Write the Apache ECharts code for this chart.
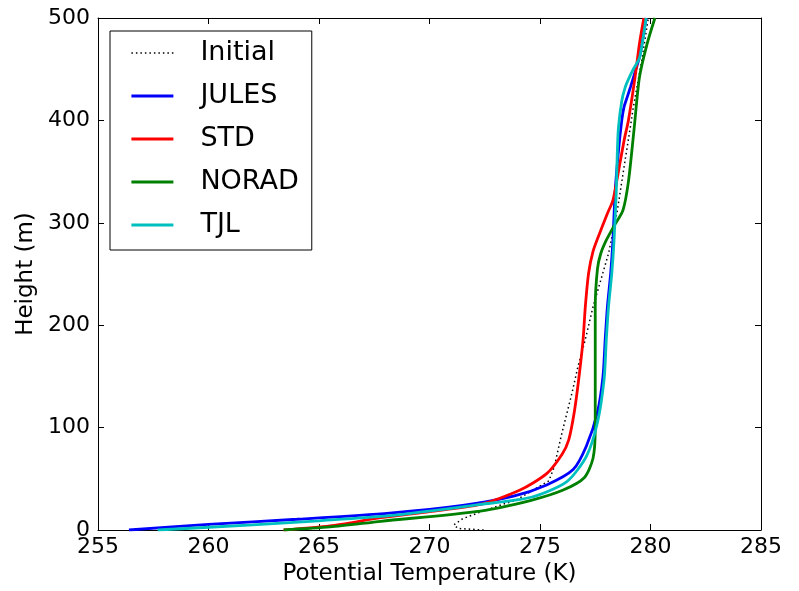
<!DOCTYPE html>
<html>
<head>
<meta charset="utf-8">
<script src="https://cdn.jsdelivr.net/npm/echarts@6/dist/echarts.min.js"></script>
<style>html,body{margin:0;padding:0;background:#fff;}#chart{width:799px;height:591px;}</style>
</head>
<body>
<div id="chart"></div>
<script>
// [temperature (K), height (m)]
var seriesNames = ['Initial', 'JULES', 'STD', 'NORAD', 'TJL'];
var xTicks = [255, 260, 265, 270, 275, 280, 285];
var yTicks = [0, 100, 200, 300, 400, 500];

var initialData = [[272.45,0],[271.3,1.5],[271.1,5],[271.5,11],[272.3,17.5],[273.3,25],[273.9,29],[275.4,48],[275.65,62],[275.95,91],[276.45,134],[276.7,158],[277.05,186],[277.4,218],[278.1,270],[278.5,312],[278.85,361],[279.1,395],[279.2,410],[279.6,458],[279.9,500]];
var julesData = [[256.4,0],[260.0,5.5],[264.0,10.5],[268.2,16.5],[271.5,24],[273.8,33],[275.3,44],[276.5,59],[277.1,82],[277.6,115],[277.85,150],[277.95,186],[278.05,218],[278.2,251],[278.3,283],[278.4,330],[278.55,370],[278.7,400],[278.8,413],[278.95,423],[279.1,433],[279.3,447],[279.5,462],[279.65,480],[279.8,500]];
var stdData = [[263.4,0],[265.5,4],[267.8,12],[270.0,18],[272.3,25],[274.1,39],[275.3,55],[276.0,74],[276.3,88],[276.55,115],[276.75,147],[276.95,186],[277.05,218],[277.2,251],[277.4,272],[277.65,287],[278.05,309],[278.3,322],[278.5,344],[278.8,380],[279.0,400],[279.3,442],[279.5,475],[279.7,500]];
var noradData = [[263.4,0],[265.5,3],[267.8,8.5],[272.3,18.5],[274.6,29],[276.05,39],[277.0,51],[277.4,70],[277.5,100],[277.5,150],[277.5,218],[277.6,255],[277.75,270],[278.0,283],[278.35,297],[278.75,312],[279.0,340],[279.25,390],[279.5,442],[279.85,475],[280.2,500]];
var tjlData = [[257.7,0],[262.0,5],[265.0,9],[268.2,14],[272.3,25],[274.6,32],[276.2,47],[277.1,72],[277.6,105],[277.9,147],[278.0,186],[278.1,218],[278.25,251],[278.35,283],[278.45,330],[278.5,370],[278.55,393],[278.7,419],[278.85,432],[279.0,440],[279.2,449],[279.5,461],[279.7,485],[279.8,500]];

var FONT = 'DejaVu Sans';
var chart = echarts.init(document.getElementById('chart'), null, {renderer: 'canvas'});

function axisCommon(extra) {
  var base = {
    type: 'value',
    axisLine: {show: true, onZero: false, lineStyle: {color: '#000', width: 1}},
    axisTick: {show: true, inside: true, length: 6, lineStyle: {color: '#000', width: 1}},
    splitLine: {show: false}
  };
  for (var k in extra) base[k] = extra[k];
  return base;
}

function lineSeries(name, data, color, width, type, smooth) {
  return {
    name: name, type: 'line', data: data, showSymbol: false, symbol: 'none',
    smooth: smooth, animation: false,
    xAxisIndex: 0, yAxisIndex: 0,
    lineStyle: {color: color, width: width, type: type},
    itemStyle: {color: color}
  };
}

var option = {
  backgroundColor: '#fff',
  animation: false,
  grid: {left: 98, right: 38, top: 18, bottom: 59, containLabel: false},
  xAxis: [
    axisCommon({position: 'bottom', min: xTicks[0], max: xTicks[xTicks.length-1], interval: 5,
      axisLabel: {color: '#000', fontSize: 22, fontFamily: FONT, margin: 6},
      name: 'Potential Temperature (K)', nameLocation: 'middle', nameGap: 33,
      nameTextStyle: {color: '#000', fontSize: 23, fontFamily: FONT}}),
    axisCommon({position: 'top', min: xTicks[0], max: xTicks[xTicks.length-1], interval: 5,
      axisLabel: {show: false}})
  ],
  yAxis: [
    axisCommon({position: 'left', min: yTicks[0], max: yTicks[yTicks.length-1], interval: 100,
      axisLabel: {color: '#000', fontSize: 22, fontFamily: FONT, margin: 8, padding: [0, 0, 3, 0]},
      name: 'Height (m)', nameLocation: 'middle', nameGap: 60,
      nameTextStyle: {color: '#000', fontSize: 23, fontFamily: FONT}}),
    axisCommon({position: 'right', min: yTicks[0], max: yTicks[yTicks.length-1], interval: 100,
      axisLabel: {show: false}})
  ],
  legend: {
    orient: 'vertical', left: 110, top: 31,
    padding: [7, 13, 10, 20],
    itemGap: 13, itemWidth: 42, itemHeight: 14,
    backgroundColor: '#fff', borderColor: '#000', borderWidth: 1,
    selectedMode: false,
    itemStyle: {opacity: 0},
    lineStyle: {width: 'inherit'},
    textStyle: {color: '#000', fontSize: 27, fontFamily: FONT, lineHeight: 30, padding: [0, 0, 0, 22]},
    data: seriesNames
  },
  series: [
    lineSeries(seriesNames[0], initialData, '#000', 1.5, [1.5, 3], false),
    lineSeries(seriesNames[1], julesData, '#0000ff', 2.8, 'solid', 0.25),
    lineSeries(seriesNames[2], stdData, '#ff0000', 2.8, 'solid', 0.25),
    lineSeries(seriesNames[3], noradData, '#008000', 2.8, 'solid', 0.25),
    lineSeries(seriesNames[4], tjlData, '#00bfbf', 2.8, 'solid', 0.25)
  ]
};
chart.setOption(option);
</script>
</body>
</html>
